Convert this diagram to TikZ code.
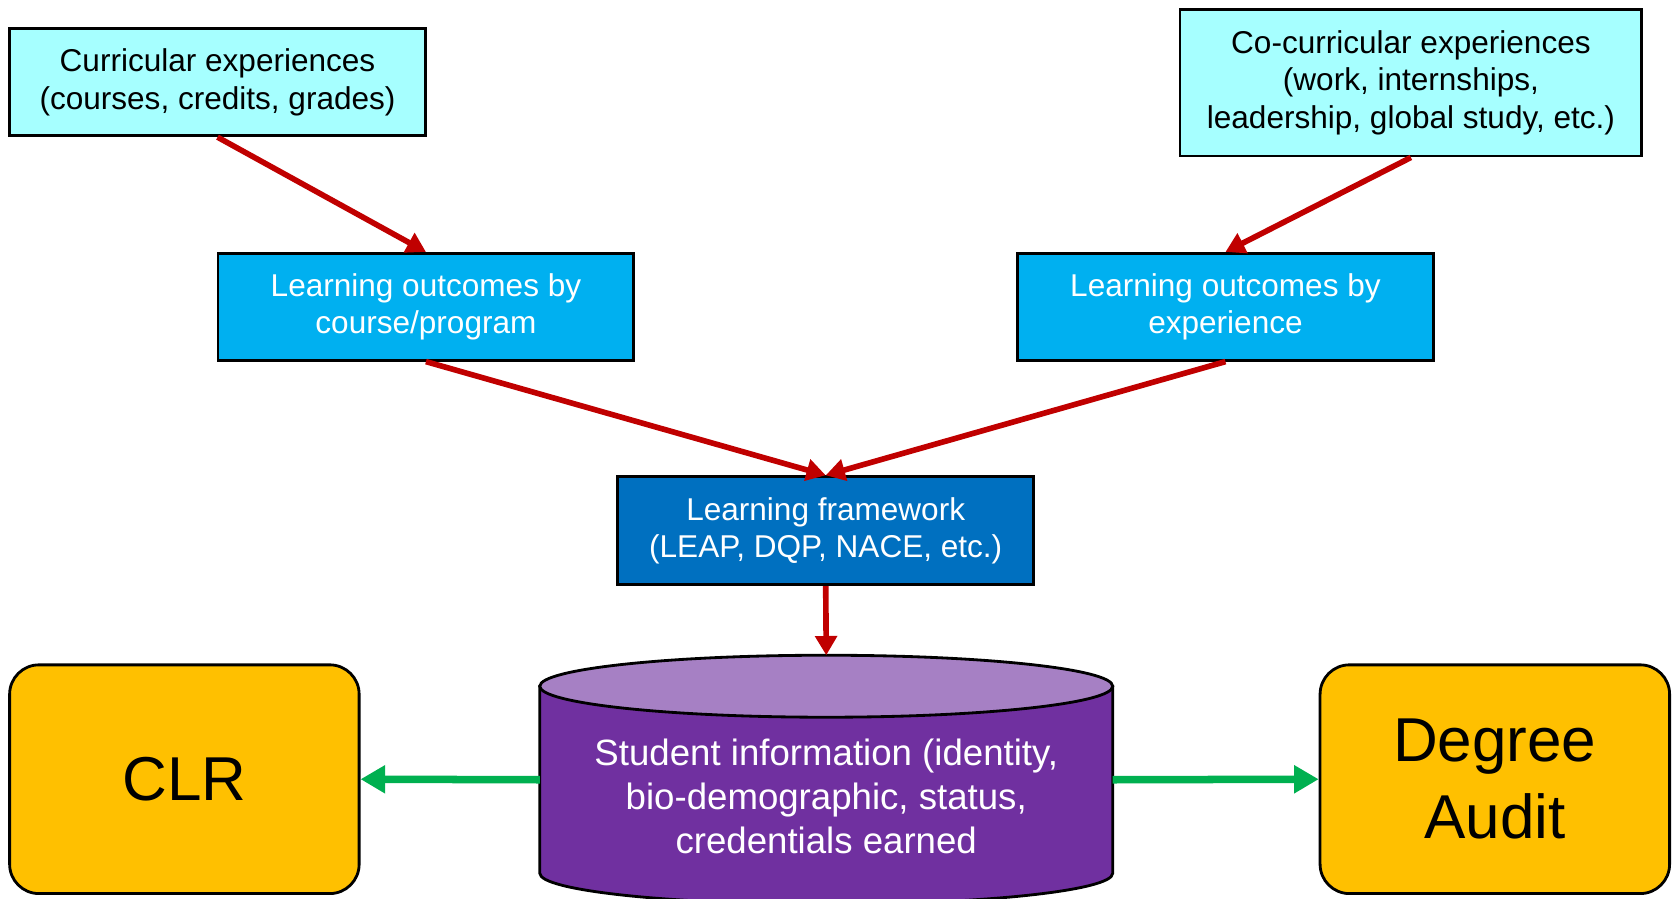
\documentclass[tikz,border=0pt]{standalone}
\usepackage{fontspec}
\setmainfont{Liberation Sans}
\usetikzlibrary{arrows.meta}
\definecolor{lightcyan}{HTML}{A6FFFF}
\definecolor{skyblue}{HTML}{00B0F0}
\definecolor{deepblue}{HTML}{0070C0}
\definecolor{dbpurple}{HTML}{7030A0}
\definecolor{dbtop}{HTML}{A680C4}
\definecolor{gold}{HTML}{FFC000}
\definecolor{darkred}{HTML}{C00000}
\definecolor{okgreen}{HTML}{00B050}
\begin{document}
\begin{tikzpicture}[
    box/.style={rectangle, draw, line width=1.5pt, align=center, inner sep=0pt,
      minimum width=7.78cm, minimum height=2cm, font=\fontsize{16.8}{19.8}\selectfont},
    result/.style={rectangle, rounded corners=0.55cm, draw, line width=1.5pt, fill=gold,
      align=center, minimum width=6.54cm, minimum height=4.28cm, font=\fontsize{33}{41}\selectfont},
    redarrow/.style={draw=darkred, line width=3pt, -{Triangle[length=0.36cm,width=0.4cm]}},
    greenarrow/.style={draw=okgreen, line width=4pt, -{Triangle[length=0.46cm,width=0.5cm]}}
  ]
  \useasboundingbox (0,0) rectangle (31.36,16.82);
  \node[box, fill=lightcyan] (1) at (4.07,15.28) {Curricular experiences\\(courses, credits, grades)};
  \node[box, fill=lightcyan, minimum width=8.64cm, minimum height=2.74cm] (2) at (26.4,15.27) {Co-curricular experiences\\(work, internships,\\leadership, global study, etc.)};
  \node[box, fill=skyblue, text=white] (3) at (7.97,11.08) {Learning outcomes by\\course/program};
  \node[box, fill=skyblue, text=white] (4) at (22.93,11.08) {Learning outcomes by\\experience};
  \node[box, fill=deepblue, text=white, minimum height=2.02cm] (5) at (15.45,6.89) {Learning framework\\(LEAP, DQP, NACE, etc.)};
  % the database: outline from the anchors of node 6
  \node[inner sep=0pt, outer sep=0pt, minimum width=10.72cm, minimum height=4.66cm] (6) at (15.46,2.23) {};
  \draw[line width=1.5pt, fill=dbpurple] ([yshift=-0.58cm]6.north west) -- ([yshift=0.58cm]6.south west)
    arc[start angle=180, end angle=360, x radius=5.36cm, y radius=0.58cm] -- ([yshift=-0.58cm]6.north east) -- cycle;
  \draw[line width=1.5pt, fill=dbtop] ([yshift=-0.58cm]6.north) ellipse[x radius=5.36cm, y radius=0.58cm];
  \node[text=white, align=center, font=\fontsize{19.5}{23.3}\selectfont] (6t) at ([yshift=-0.31cm]6.center)
    {Student information (identity,\\bio-demographic, status,\\credentials earned};
  \node[result] (7) at (3.45,2.24) {CLR};
  \node[result] (8) at (27.97,2.24) {Degree\\Audit};
  \foreach \source/\dest in {1/3, 2/4, 3/5, 4/5, 5/6}
    \draw[redarrow] (\source.south) -- (\dest.north);
  \draw[greenarrow] (6.west) -- (7.east);
  \draw[greenarrow] (6.east) -- (8.west);
\end{tikzpicture}
\end{document}
